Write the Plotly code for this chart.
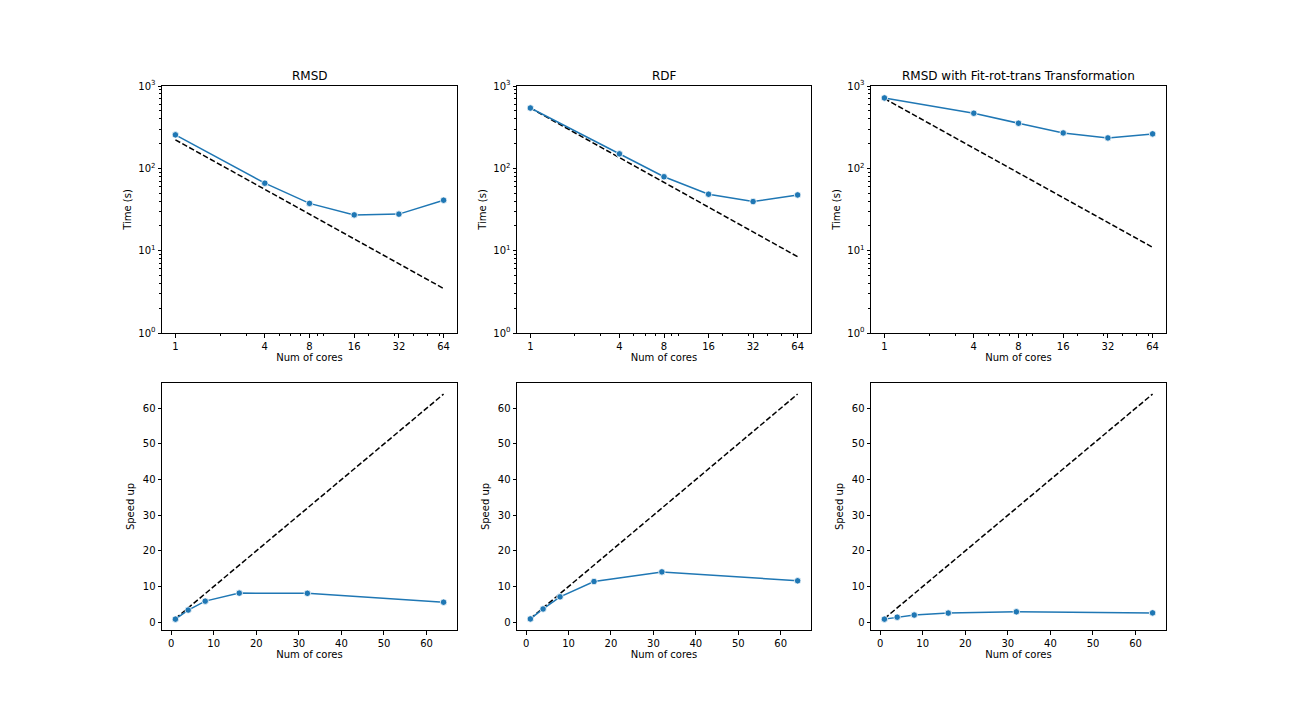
import plotly.graph_objects as go
from plotly.subplots import make_subplots

cores = [1, 4, 8, 16, 32, 64]
titles = ["RMSD", "RDF", "RMSD with Fit-rot-trans Transformation"]

time_rmsd = [255, 66, 37.5, 27.2, 27.8, 41]
time_rdf = [540, 150, 79, 48.5, 39.5, 47.5]
time_fit = [716, 467, 353, 269, 234, 262]

ideal_time_rmsd = [222, 55.5, 27.8, 13.9, 6.94, 3.47]
ideal_time_rdf = [540, 135, 67.5, 33.8, 16.9, 8.44]
ideal_time_fit = [703, 176, 87.9, 43.9, 22.0, 11.0]

speedup_rmsd = [0.85, 3.4, 5.9, 8.15, 8.1, 5.6]
speedup_rdf = [0.9, 3.7, 7.1, 11.4, 14.1, 11.6]
speedup_fit = [0.85, 1.4, 2.0, 2.55, 2.9, 2.6]

ideal_speedup = [1, 4, 8, 16, 32, 64]

log_ticks = [1, 4, 8, 16, 32, 64]
log_minor = [2, 3, 5, 6, 7, 9, 10, 20, 30, 40, 50, 60]
y_log_ticks = [1, 10, 100, 1000]
y_log_text = ["10<sup>0</sup>", "10<sup>1</sup>", "10<sup>2</sup>", "10<sup>3</sup>"]
y_log_minor = [2, 3, 4, 5, 6, 7, 8, 9, 20, 30, 40, 50, 60, 70, 80, 90, 200, 300, 400, 500, 600, 700, 800, 900]

times = [time_rmsd, time_rdf, time_fit]
ideal_times = [ideal_time_rmsd, ideal_time_rdf, ideal_time_fit]
speedups = [speedup_rmsd, speedup_rdf, speedup_fit]

BLUE = "#1f77b4"
FONT = "DejaVu Sans"
DASH = "5.5px,2.4px"

fig = make_subplots(rows=2, cols=3)

for c in range(3):
    fig.add_trace(go.Scatter(x=cores, y=ideal_times[c], mode="lines",
                             line=dict(color="black", dash=DASH, width=1.5),
                             showlegend=False), row=1, col=c + 1)
    fig.add_trace(go.Scatter(x=cores, y=times[c], mode="lines+markers",
                             line=dict(color=BLUE, width=1.5),
                             marker=dict(color=BLUE, size=6.5, line=dict(color="white", width=0.8)),
                             showlegend=False), row=1, col=c + 1)
    fig.add_trace(go.Scatter(x=cores, y=ideal_speedup, mode="lines",
                             line=dict(color="black", dash=DASH, width=1.5),
                             showlegend=False), row=2, col=c + 1)
    fig.add_trace(go.Scatter(x=cores, y=speedups[c], mode="lines+markers",
                             line=dict(color=BLUE, width=1.5),
                             marker=dict(color=BLUE, size=6.5, line=dict(color="white", width=0.8)),
                             showlegend=False), row=2, col=c + 1)

W, H = 1296, 720
xdoms = [(162, 457), (517, 811), (871, 1166)]
ydoms = [(86, 333), (383, 630)]

axis_common = dict(showline=True, linecolor="black", linewidth=1, mirror=True,
                   ticks="outside", ticklen=3.5, tickwidth=1, tickcolor="black",
                   showgrid=False, zeroline=False, automargin=False,
                   tickfont=dict(family=FONT, size=10, color="black"),
                   title_font=dict(family=FONT, size=10, color="black"))

layout = {}
idx = 0
for r in range(2):
    for c in range(3):
        idx += 1
        xa = "xaxis" if idx == 1 else f"xaxis{idx}"
        ya = "yaxis" if idx == 1 else f"yaxis{idx}"
        xd = [xdoms[c][0] / W, xdoms[c][1] / W]
        yd = [1 - ydoms[r][1] / H, 1 - ydoms[r][0] / H]
        if r == 0:
            layout[xa] = dict(axis_common, domain=xd, type="log", range=[-0.0903, 1.8964],
                              tickmode="array", tickvals=log_ticks,
                              ticktext=[str(v) for v in log_ticks],
                              minor=dict(tickmode="array", tickvals=log_minor, ticks="outside",
                                         ticklen=2, tickcolor="black", tickwidth=0.6),
                              title=dict(text="Num of cores", standoff=2))
            layout[ya] = dict(axis_common, domain=yd, type="log", range=[0, 3],
                              tickmode="array", tickvals=y_log_ticks, ticktext=y_log_text,
                              minor=dict(tickmode="array", tickvals=y_log_minor, ticks="outside",
                                         ticklen=2, tickcolor="black", tickwidth=0.6),
                              title=dict(text="Time (s)", standoff=4))
        else:
            layout[xa] = dict(axis_common, domain=xd, range=[-2.15, 67.15],
                              tickmode="array", tickvals=[0, 10, 20, 30, 40, 50, 60],
                              title=dict(text="Num of cores", standoff=2))
            layout[ya] = dict(axis_common, domain=yd, range=[-2.2, 67.1],
                              tickmode="array", tickvals=[0, 10, 20, 30, 40, 50, 60],
                              title=dict(text="Speed up", standoff=6))

fig.update_layout(**layout)

annotations = []
for c in range(3):
    annotations.append(dict(text=titles[c], xref="paper", yref="paper",
                            x=(xdoms[c][0] + xdoms[c][1]) / 2 / W,
                            y=1 - 86 / H + 1 / H, xanchor="center", yanchor="bottom",
                            showarrow=False, font=dict(family=FONT, size=12, color="black")))

fig.update_layout(annotations=annotations, width=W, height=H,
                  margin=dict(l=0, r=0, t=0, b=0, autoexpand=False),
                  paper_bgcolor="white", plot_bgcolor="white",
                  font=dict(family=FONT, size=10, color="black"))

fig.write_html("out.html", config={"displayModeBar": False},
               post_script="document.body.style.margin='0';document.body.style.overflow='hidden';")
